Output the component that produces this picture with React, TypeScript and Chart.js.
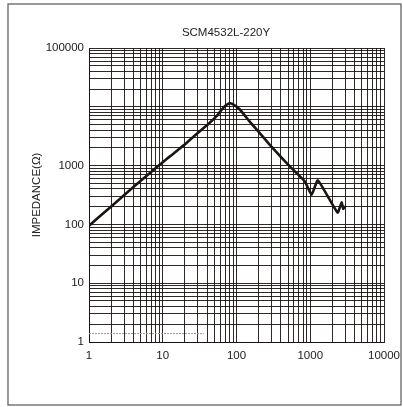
import React, { useEffect, useRef } from "react";
import { Chart, registerables } from "chart.js";

Chart.register(...registerables);

const chartTitle = "SCM4532L-220Y";
const yAxisTitle = "IMPEDANCE(Ω)";

const freq = [1, 2, 4, 6.7, 10, 12.5, 21, 31.8, 43, 53.6, 63, 70, 80, 90, 111, 151, 200, 283, 528, 845, 1042, 1270, 2345, 2660, 2800, 2960];
const impedance = [95, 202, 433, 750, 1140, 1435, 2430, 3840, 5300, 6920, 8900, 10300, 11500, 11000, 9000, 5600, 3750, 2250, 969, 537, 320, 559, 159, 236, 184, 205];

const refFreq = [1, 36];
const refLevel = [1.39, 1.39];

const xGridValues = [1, 2, 3, 4, 5, 6, 7, 8, 9, 10, 20, 30, 40, 50, 60, 70, 80, 90, 100, 200, 300, 400, 500, 600, 700, 800, 900, 1000, 2000, 3000, 4000, 5000, 6000, 7000, 8000, 9000, 10000];
const yGridValues = [1, 2, 3, 4, 5, 6, 7, 8, 9, 10, 20, 30, 40, 50, 60, 70, 80, 90, 100, 200, 300, 400, 500, 600, 700, 800, 900, 1000, 2000, 3000, 4000, 5000, 6000, 7000, 8000, 9000, 10000, 20000, 30000, 40000, 50000, 60000, 70000, 80000, 90000, 100000];
const xTickLabels = ["1", "10", "100", "1000", "10000"];
const yTickLabels = ["1", "10", "100", "1000", "100000"];

const FONT = "'Liberation Sans', Arial, sans-serif";

export default function App() {
  const canvasRef = useRef<HTMLCanvasElement | null>(null);

  useEffect(() => {
    document.body.style.margin = "0";
    const canvas = canvasRef.current;
    if (!canvas) return;

    const framePlugin = {
      id: "frameAndTitle",
      beforeDraw(chart: any) {
        const ctx = chart.ctx;
        ctx.save();
        ctx.fillStyle = "#ffffff";
        ctx.fillRect(0, 0, chart.width, chart.height);
        ctx.restore();
      },
      afterDraw(chart: any) {
        const ctx = chart.ctx;
        ctx.save();
        ctx.strokeStyle = "#555555";
        ctx.lineWidth = 1.2;
        ctx.strokeRect(8, 4, 393, 401);
        ctx.fillStyle = "#222222";
        ctx.font = "11.5px " + FONT;
        ctx.textAlign = "center";
        ctx.textBaseline = "middle";
        ctx.fillText(chartTitle, 226, 33);
        ctx.restore();
      },
    };

    const gridColor = "rgba(25,15,15,0.9)";

    const chart = new Chart(canvas, {
      type: "line",
      data: {
        datasets: [
          {
            data: freq.map((f, i) => ({ x: f, y: impedance[i] })),
            borderColor: "#1c1412",
            borderWidth: 2.6,
            pointRadius: 0,
            tension: 0.15,
            fill: false,
          },
          {
            data: refFreq.map((f, i) => ({ x: f, y: refLevel[i] })),
            borderColor: "#9a9a9a",
            borderWidth: 1,
            borderDash: [2, 1],
            pointRadius: 0,
            fill: false,
          },
        ],
      },
      options: {
        responsive: false,
        animation: false,
        devicePixelRatio: 1,
        layout: { padding: { left: 0, top: 48, right: 19, bottom: 0 } },
        plugins: {
          legend: { display: false },
          title: { display: false },
          tooltip: { enabled: false },
        },
        scales: {
          x: {
            type: "logarithmic",
            min: 1,
            max: 10000,
            afterBuildTicks(scale: any) {
              scale.ticks = xGridValues.map((v) => ({ value: v }));
            },
            afterFit(scale: any) {
              scale.height = 65;
              scale.paddingRight = 0;
              scale.paddingLeft = 0;
            },
            ticks: {
              autoSkip: false,
              maxRotation: 0,
              padding: 7,
              color: "#222222",
              font: { size: 11.5, family: FONT },
              callback(value: any) {
                const s = String(value);
                return xTickLabels.includes(s) ? s : "";
              },
            },
            grid: { color: gridColor, lineWidth: 1, drawTicks: false },
            border: { display: true, color: gridColor, width: 1 },
          },
          y: {
            type: "logarithmic",
            min: 1,
            max: 100000,
            afterBuildTicks(scale: any) {
              scale.ticks = yGridValues.map((v) => ({ value: v }));
            },
            afterFit(scale: any) {
              scale.width = 89;
              scale.paddingTop = 0;
              scale.paddingBottom = 0;
            },
            ticks: {
              autoSkip: false,
              padding: 5,
              color: "#222222",
              font: { size: 11.5, family: FONT },
              callback(value: any) {
                const s = String(value);
                return yTickLabels.includes(s) ? s : "";
              },
            },
            title: {
              display: true,
              text: yAxisTitle,
              color: "#222222",
              font: { size: 11.5, family: FONT },
              padding: { top: 30, bottom: 0 },
            },
            grid: { color: gridColor, lineWidth: 1, drawTicks: false },
            border: { display: true, color: gridColor, width: 1 },
          },
        },
      },
      plugins: [framePlugin],
    } as any);

    return () => chart.destroy();
  }, []);

  return (
    <div style={{ position: "absolute", left: 0, top: 0, width: 403, height: 407 }}>
      <canvas ref={canvasRef} width={403} height={407} style={{ display: "block", width: 403, height: 407 }} />
    </div>
  );
}
